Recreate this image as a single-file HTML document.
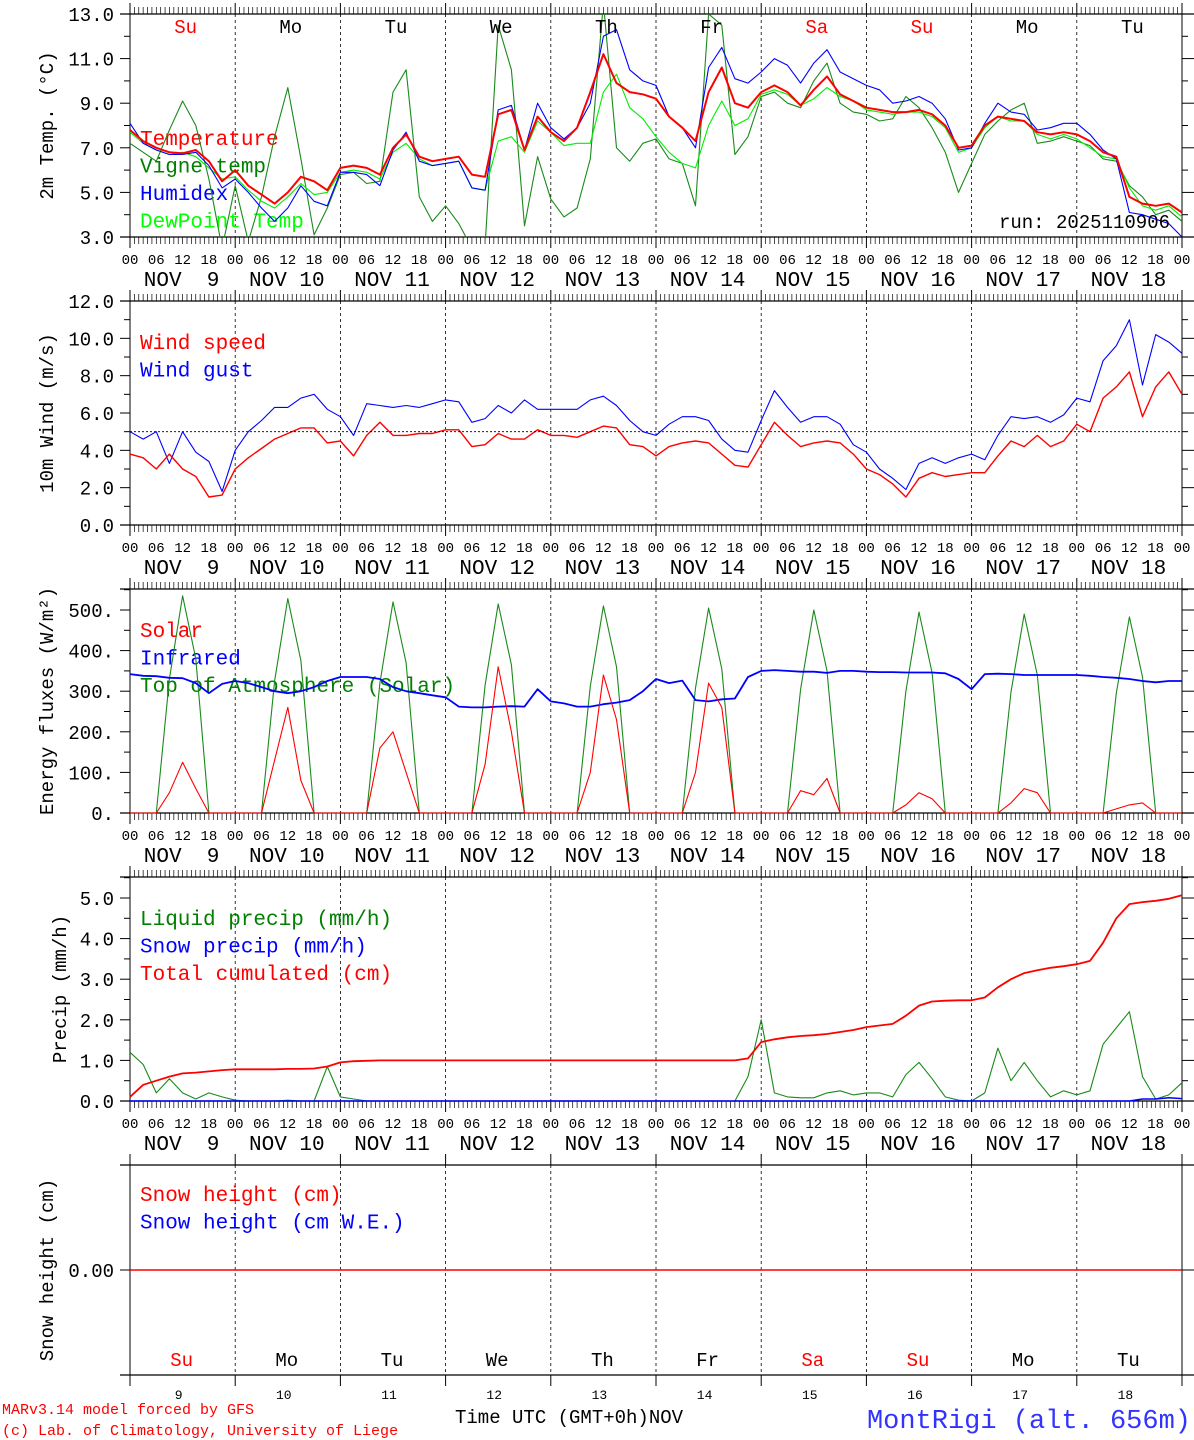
<!DOCTYPE html>
<html><head><meta charset="utf-8"><style>
html,body{margin:0;padding:0;background:#fff;}
svg{display:block;}
text{font-family:"Liberation Mono","DejaVu Sans Mono",monospace;}
</style></head><body>
<svg id="chart" width="1194" height="1440" viewBox="0 0 1194 1440" xmlns="http://www.w3.org/2000/svg">
<defs>
<clipPath id="c1"><rect x="130" y="14" width="1052" height="223"/></clipPath>
</defs>
</svg>
<script>
// ---- data (3-hourly, Nov 9 00h .. Nov 19 00h) ----
const days = ["9","10","11","12","13","14","15","16","17","18"];
const dayNames = ["Su","Mo","Tu","We","Th","Fr","Sa","Su","Mo","Tu"];
const hourTicks = ["00","06","12","18"];
const tempTicks = [3,5,7,9,11,13];
const windTicks = [0,2,4,6,8,10,12];
const fluxTicks = [0,100,200,300,400,500];
const precipTicks = [0,1,2,3,4,5];
const temperature = [7.8,7.3,7.0,6.8,6.75,6.9,6.4,5.5, 6.0,5.3,4.9,4.5,5.0,5.7,5.5,5.1, 6.1,6.2,6.1,5.8,7.0,7.6,6.6,6.4, 6.5,6.6,5.8,5.7,8.5,8.7,6.9,8.4, 7.7,7.3,7.9,9.5,11.2,9.9,9.5,9.4, 9.2,8.4,7.9,7.3,9.5,10.6,9.0,8.8, 9.5,9.8,9.5,8.9,9.6,10.2,9.4,9.1, 8.8,8.7,8.6,8.6,8.7,8.5,8.0,7.0, 7.1,8.0,8.4,8.3,8.2,7.7,7.6,7.7, 7.6,7.3,6.8,6.6,4.8,4.5,4.4,4.5,4.1];
const vigneTemp = [7.2,6.8,6.4,7.8,9.1,8.0,5.6,2.5, 5.3,2.8,4.8,7.5,9.7,6.5,3.1,4.3, 5.8,5.9,5.4,5.5,9.5,10.5,4.8,3.7, 4.4,3.6,2.5,2.6,12.5,10.5,3.5,6.6, 4.7,3.9,4.3,6.5,13.5,7.0,6.4,7.2, 7.4,6.5,6.3,4.4,13.0,12.5,6.7,7.5, 9.3,9.5,9.0,8.8,10.0,10.8,9.0,8.6, 8.5,8.2,8.3,9.3,8.8,7.9,6.8,5.0, 6.3,7.6,8.2,8.7,9.0,7.2,7.3,7.5, 7.3,7.1,6.5,6.4,5.3,4.8,4.0,4.2,3.7];
const humidex = [8.1,7.2,6.9,6.7,6.7,6.8,6.2,5.2, 5.6,5.0,4.3,3.7,4.3,5.3,4.6,4.4, 5.9,5.9,5.8,5.3,6.9,7.7,6.4,6.2, 6.3,6.4,5.2,5.1,8.7,8.9,6.9,9.0, 7.9,7.4,7.9,9.0,12.0,12.3,10.5,10.0, 9.8,8.4,7.9,7.0,10.6,11.5,10.1,9.9, 10.4,11.0,10.7,9.9,10.8,11.4,10.4,10.1, 9.8,9.6,9.0,9.1,9.3,9.0,8.3,6.9, 7.0,8.1,9.0,8.6,8.5,7.8,7.9,8.1, 8.1,7.6,6.9,6.5,4.1,4.0,3.8,3.6,3.0];
const dewPoint = [7.7,7.2,6.9,6.7,6.8,6.6,6.1,5.6, 5.7,5.1,4.6,4.3,4.8,5.4,4.9,5.0, 5.9,6.0,5.9,5.6,6.8,7.2,6.5,6.2, 6.3,6.4,5.2,5.1,7.3,7.5,6.8,8.2, 7.7,7.1,7.2,7.2,9.5,10.3,8.8,8.3, 7.5,6.8,6.3,6.1,8.0,9.1,8.0,8.3, 9.4,9.6,9.4,8.9,9.2,9.7,9.3,9.1, 8.7,8.6,8.5,8.6,8.6,8.4,7.9,6.8, 7.0,7.9,8.4,8.2,8.2,7.6,7.4,7.6, 7.4,7.0,6.6,6.5,5.2,4.4,4.2,4.4,3.9];
const windSpeed = [3.8,3.6,3.0,3.8,3.0,2.6,1.5,1.6, 3.0,3.6,4.1,4.6,4.9,5.2,5.2,4.4, 4.5,3.7,4.8,5.5,4.8,4.8,4.9,4.9, 5.1,5.1,4.2,4.3,4.9,4.6,4.6,5.1, 4.8,4.8,4.7,5.0,5.3,5.2,4.3,4.2, 3.7,4.2,4.4,4.5,4.4,3.8,3.2,3.1, 4.3,5.5,4.8,4.2,4.4,4.5,4.4,3.8, 3.0,2.7,2.2,1.5,2.5,2.8,2.6,2.7, 2.8,2.8,3.7,4.5,4.2,4.8,4.2,4.5, 5.4,5.0,6.8,7.4,8.2,5.8,7.4,8.2,7.0];
const windGust = [5.0,4.6,5.0,3.3,5.0,3.9,3.4,1.8, 4.0,5.0,5.6,6.3,6.3,6.8,7.0,6.2, 5.8,4.8,6.5,6.4,6.3,6.4,6.3,6.5, 6.7,6.6,5.5,5.7,6.4,6.0,6.7,6.2, 6.2,6.2,6.2,6.7,6.9,6.4,5.6,5.0, 4.8,5.4,5.8,5.8,5.6,4.6,4.0,3.9, 5.6,7.2,6.3,5.5,5.8,5.8,5.4,4.3, 3.9,3.0,2.5,1.9,3.3,3.6,3.3,3.6, 3.8,3.5,4.8,5.8,5.7,5.8,5.5,5.9, 6.8,6.6,8.8,9.6,11.0,7.5,10.2,9.8,9.2];
const solar = [0,0,0,50,125,60,0,0, 0,0,0,130,260,80,0,0, 0,0,0,160,200,100,0,0, 0,0,0,120,360,200,0,0, 0,0,0,100,340,230,0,0, 0,0,0,100,320,260,0,0, 0,0,0,55,45,85,0,0, 0,0,0,20,50,35,0,0, 0,0,0,25,60,50,0,0, 0,0,0,10,20,25,0,0,0];
const infrared = [342,338,337,333,332,320,295,318, 325,320,310,300,295,300,310,325, 335,335,335,330,310,300,295,290, 285,262,260,260,262,263,262,305, 275,270,262,262,268,272,278,300, 330,320,326,278,275,280,282,335, 350,352,350,348,348,345,350,350, 348,347,347,346,346,346,344,330, 305,342,343,342,340,340,340,340, 340,338,335,333,330,325,322,325,325];
const toaSolar = [0,0,0,330,535,380,0,0, 0,0,0,325,528,375,0,0, 0,0,0,320,520,370,0,0, 0,0,0,315,515,365,0,0, 0,0,0,312,510,360,0,0, 0,0,0,308,505,355,0,0, 0,0,0,305,500,350,0,0, 0,0,0,300,495,345,0,0, 0,0,0,298,490,340,0,0, 0,0,0,295,483,335,0,0,0];
const liquidPrecip = [1.2,0.9,0.2,0.55,0.2,0.05,0.2,0.1, 0.02,0,0,0,0.02,0,0,0.85, 0.1,0.05,0,0,0,0,0,0, 0,0,0,0,0,0,0,0, 0,0,0,0,0,0,0,0, 0,0,0,0,0,0,0,0.6, 2.0,0.2,0.1,0.08,0.08,0.2,0.25,0.15, 0.2,0.2,0.1,0.65,0.95,0.55,0.1,0.02, 0,0.2,1.3,0.5,0.95,0.5,0.1,0.25, 0.15,0.25,1.4,1.8,2.2,0.6,0.05,0.15,0.45];
const snowPrecip = [0,0,0,0,0,0,0,0, 0,0,0,0,0,0,0,0, 0,0,0,0,0,0,0,0, 0,0,0,0,0,0,0,0, 0,0,0,0,0,0,0,0, 0,0,0,0,0,0,0,0, 0,0,0,0,0,0,0,0, 0,0,0,0,0,0,0,0, 0,0,0,0,0,0,0,0, 0,0,0,0,0,0.05,0.05,0.08,0.06];
const totalCumul = [0.1,0.4,0.5,0.6,0.68,0.7,0.73,0.76, 0.78,0.78,0.78,0.78,0.79,0.79,0.8,0.85, 0.95,0.98,0.99,1.0,1.0,1.0,1.0,1.0, 1.0,1.0,1.0,1.0,1.0,1.0,1.0,1.0, 1.0,1.0,1.0,1.0,1.0,1.0,1.0,1.0, 1.0,1.0,1.0,1.0,1.0,1.0,1.0,1.05, 1.45,1.52,1.57,1.6,1.62,1.65,1.7,1.75, 1.82,1.86,1.9,2.1,2.35,2.45,2.47,2.48, 2.48,2.55,2.8,3.0,3.15,3.22,3.28,3.32, 3.37,3.45,3.9,4.5,4.85,4.9,4.93,4.98,5.07];
const snowHeight = [0,0,0,0,0,0,0,0,0,0,0,0,0,0,0,0,0,0,0,0,0,0,0,0,0,0,0,0,0,0,0,0,0,0,0,0,0,0,0,0,0,0,0,0,0,0,0,0,0,0,0,0,0,0,0,0,0,0,0,0,0,0,0,0,0,0,0,0,0,0,0,0,0,0,0,0,0,0,0,0,0];

const NS = "http://www.w3.org/2000/svg";
const svg = document.getElementById("chart");
const X0 = 130, X1 = 1182, DW = (X1 - X0) / 10;
function xAt(i) { return X0 + i * (X1 - X0) / 80; }
function mk(tag, attrs, parent) {
  const e = document.createElementNS(NS, tag);
  for (const k in attrs) e.setAttribute(k, attrs[k]);
  (parent || svg).appendChild(e);
  return e;
}
function txt(s, x, y, size, color, anchor, parent) {
  const t = mk("text", {x: x, y: y, "font-size": size, fill: color, "text-anchor": anchor || "start"}, parent);
  t.textContent = s;
  return t;
}

function panel(p) {
  const g = mk("g", {});
  
  
  const yv = v => p.yb - (v - p.vmin) * (p.yb - p.yt0) / (p.vmax0 - p.vmin);
  mk("line", {x1: 120, y1: p.top, x2: 1194, y2: p.top, stroke: "#000", "stroke-width": 1.3}, g);
  mk("line", {x1: 120, y1: p.bot, x2: 1194, y2: p.bot, stroke: "#000", "stroke-width": 1.3}, g);
  mk("line", {x1: X0, y1: p.top - 11, x2: X0, y2: p.bot + 11, stroke: "#000", "stroke-width": 1}, g);
  mk("line", {x1: X1, y1: p.top - 11, x2: X1, y2: p.bot + 11, stroke: "#000", "stroke-width": 1}, g);
  if (!p.last) {
    for (let h = 1; h < 240; h++) {
      const x = X0 + h * DW / 24;
      if (h % 24 === 0) continue;
      mk("line", {x1: x, y1: p.top - 7, x2: x, y2: p.top, stroke: "#000", "stroke-width": 0.7}, g);
      mk("line", {x1: x, y1: p.bot, x2: x, y2: p.bot + 7, stroke: "#000", "stroke-width": 0.7}, g);
    }
  }
  for (let d = 1; d < 10; d++) {
    const x = X0 + d * DW;
    mk("line", {x1: x, y1: p.top - 11, x2: x, y2: p.top, stroke: "#000", "stroke-width": 1}, g);
    mk("line", {x1: x, y1: p.bot, x2: x, y2: p.bot + 11, stroke: "#000", "stroke-width": 1}, g);
    const dl = mk("line", {x1: x, y1: p.top, x2: x, y2: p.bot, stroke: "#000", "stroke-width": 0.8, "stroke-dasharray": "3,3"}, g);
    
    
  }
  p.ticks.forEach(v => {
    const y = yv(v);
    mk("line", {x1: 120, y1: y, x2: X0, y2: y, stroke: "#000", "stroke-width": 1}, g);
    mk("line", {x1: X1, y1: y, x2: 1194, y2: y, stroke: "#000", "stroke-width": 1}, g);
    const t = txt(p.fmt(v), 114, y + 7, 19, "#000", "end", g);
    
    
  });
  if (p.minor) {
    for (let v = p.vmin + p.minor; v < p.vmax0 + 0.01 + p.minor; v += p.minor * 2) {
      const y = yv(v);
      if (y < p.top) continue;
      mk("line", {x1: 124, y1: y, x2: X0, y2: y, stroke: "#000", "stroke-width": 1}, g);
      mk("line", {x1: X1, y1: y, x2: 1188, y2: y, stroke: "#000", "stroke-width": 1}, g);
    }
  }
  const tt = txt(p.title, 0, 0, 19, "#000", "middle", g);
  tt.setAttribute("transform", "translate(" + p.titleX + "," + ((p.top + p.bot) / 2) + ") rotate(-90)");
  
  
  if (!p.last) {
    for (let d = 0; d < 10; d++) {
      hourTicks.forEach((h, k) => {
        const t = txt(h, X0 + d * DW + k * DW / 4, p.bot + 27, 14, "#000", "middle", g);
        
        
      });
      const nt = txt("NOV " + (days[d].length < 2 ? " " : "") + days[d], X0 + d * DW + DW / 2 - 1, p.bot + 49, 21, "#000", "middle", g);
      nt.setAttribute("xml:space", "preserve");
      nt.style.whiteSpace = "pre";
      
      
    }
    txt("00", X1, p.bot + 27, 14, "#000", "middle", g);
  }
  p.legend.forEach((l, k) => {
    const t = txt(l[0], 140, p.legY + k * 27.5, 21, l[1], "start", g);
    
    
  });
  const sg = mk("g", p.clip ? {"clip-path": "url(#" + p.clip + ")"} : {}, g);
  p.series.forEach(s => {
    const pts = s.data.map((v, i) => xAt(i).toFixed(1) + "," + yv(v).toFixed(1)).join(" ");
    const pl = mk("polyline", {points: pts, fill: "none", stroke: s.color, "stroke-width": s.w || 1.1, "stroke-linejoin": "round"}, sg);
    
    
  });
  return yv;
}

panel({name: "temperature-panel", top: 14, bot: 237, yt0: 14, yb: 237, vmin: 3, vmax0: 13, ticks: tempTicks, minor: 1,
  fmt: v => v.toFixed(1), title: "2m Temp. (\u00B0C)", titleX: 53, clip: "c1", legY: 145,
  legend: [["Temperature", "#ff0000"], ["Vigne temp", "#008000"], ["Humidex", "#0000ff"], ["DewPoint Temp", "#00ff00"]],
  series: [{data: vigneTemp, color: "#1a8a1a", name: "vigne-temp-line"}, {data: dewPoint, color: "#00ee00", name: "dewpoint-line"},
           {data: humidex, color: "#0000ff", name: "humidex-line"}, {data: temperature, color: "#ff0000", w: 2, name: "temperature-line"}]});
const rt = txt("run: 2025110906", 1170, 228, 19, "#000", "end");


dayNames.forEach((n, d) => {
  const t = txt(n, X0 + d * DW + DW / 2 + 3, 33, 19, (n === "Su" || n === "Sa") ? "#ff0000" : "#000", "middle");
  
  
});

const yw = panel({name: "wind-panel", top: 301, bot: 525, yt0: 301, yb: 525, vmin: 0, vmax0: 12, ticks: windTicks, minor: 1,
  fmt: v => v.toFixed(1), title: "10m Wind (m/s)", titleX: 53, legY: 349,
  legend: [["Wind speed", "#ff0000"], ["Wind gust", "#0000ff"]],
  series: [{data: windGust, color: "#0000ff", name: "wind-gust-line"}, {data: windSpeed, color: "#ff0000", w: 1.4, name: "wind-speed-line"}]});
const ref = mk("line", {x1: X0, y1: yw(5), x2: X1, y2: yw(5), stroke: "#000", "stroke-width": 0.8, "stroke-dasharray": "2,2"});



panel({name: "energy-panel", top: 589, bot: 813, yt0: 610, yb: 813, vmin: 0, vmax0: 500, ticks: fluxTicks, minor: 50,
  fmt: v => v + ".", title: "Energy fluxes (W/m\u00B2)", titleX: 53, legY: 637,
  legend: [["Solar", "#ff0000"], ["Infrared", "#0000ff"], ["Top of Atmosphere (Solar)", "#008000"]],
  series: [{data: toaSolar, color: "#1a8a1a", name: "toa-solar-line"}, {data: infrared, color: "#0000ff", w: 1.8, name: "infrared-line"},
           {data: solar, color: "#ff0000", name: "solar-line"}]});

panel({name: "precip-panel", top: 877, bot: 1101, yt0: 898, yb: 1101, vmin: 0, vmax0: 5, ticks: precipTicks, minor: 0.5,
  fmt: v => v.toFixed(1), title: "Precip (mm/h)", titleX: 66, legY: 925,
  legend: [["Liquid precip (mm/h)", "#008000"], ["Snow precip (mm/h)", "#0000ff"], ["Total cumulated (cm)", "#ff0000"]],
  series: [{data: liquidPrecip, color: "#1a8a1a", name: "liquid-precip-line"}, {data: snowPrecip, color: "#0000ff", w: 1.5, name: "snow-precip-line"},
           {data: totalCumul, color: "#ff0000", w: 1.8, name: "total-cumulated-line"}]});

panel({name: "snow-panel", top: 1165, bot: 1375, yt0: 1165, yb: 1270, vmin: 0, vmax0: 1, ticks: [0], minor: 0, last: true,
  fmt: v => v.toFixed(2), title: "Snow height (cm)", titleX: 53, legY: 1201,
  legend: [["Snow height (cm)", "#ff0000"], ["Snow height (cm W.E.)", "#0000ff"]],
  series: [{data: snowHeight, color: "#0000ff", name: "snow-we-line"}, {data: snowHeight, color: "#ff0000", w: 1.5, name: "snow-height-line"}]});
dayNames.forEach((n, d) => {
  const t = txt(n, X0 + d * DW + DW / 2 - 1, 1366, 19, (n === "Su" || n === "Sa") ? "#ff0000" : "#000", "middle");
  
  
  const dn = txt(days[d], X0 + d * DW + DW / 2 - 4, 1399, 13, "#000", "middle");
  
  
});

const f1 = txt("MARv3.14 model forced by GFS", 2, 1414, 15, "#ff0000");


const f2 = txt("(c) Lab. of Climatology, University of Liege", 2, 1435, 15, "#ff0000");


const xt = txt("Time UTC (GMT+0h)NOV", 455, 1423, 19, "#000");


const st = txt("MontRigi (alt. 656m)", 1191, 1428, 27, "#3333ff", "end");


</script>
</body></html>
